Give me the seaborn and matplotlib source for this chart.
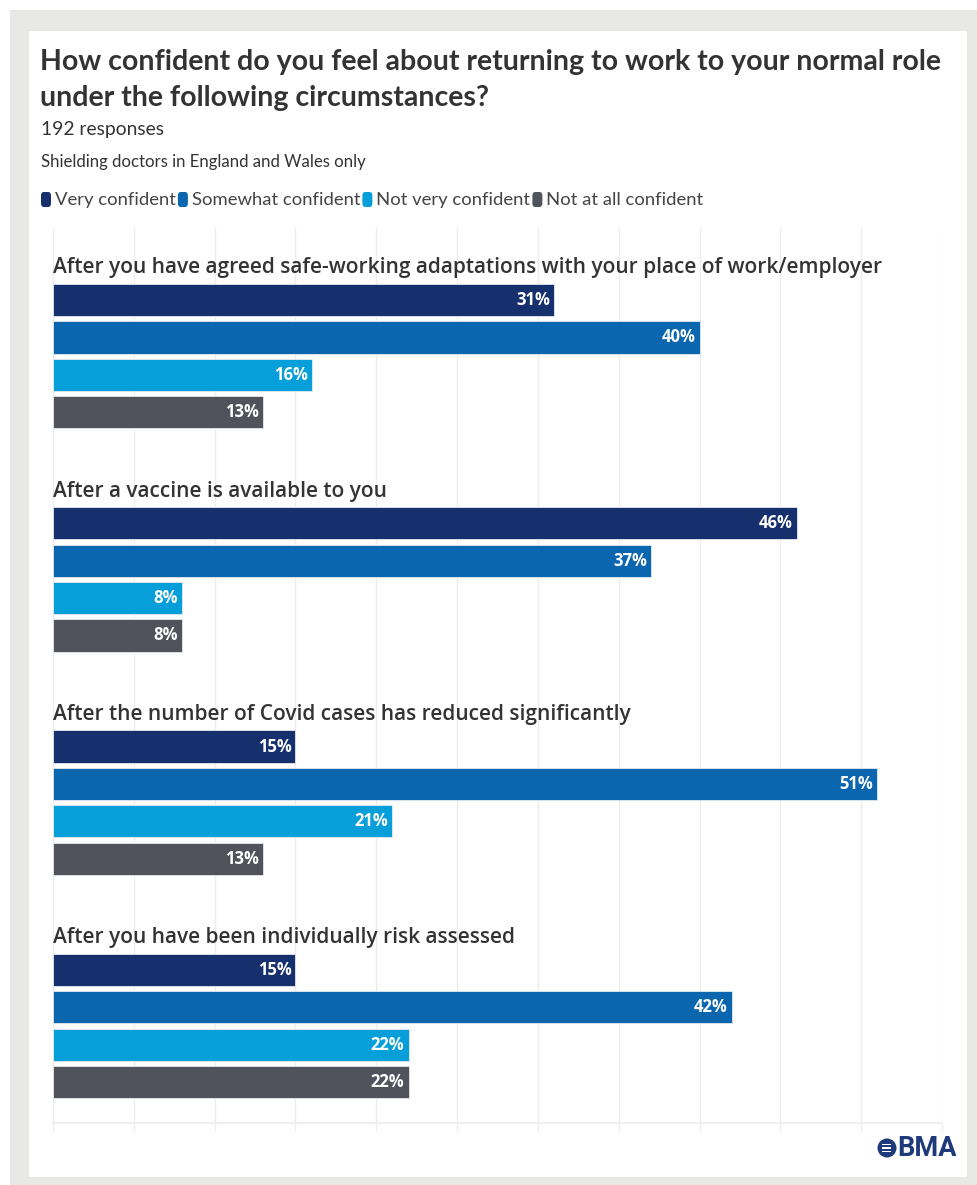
import matplotlib
matplotlib.use("Agg")
import matplotlib.pyplot as plt
from matplotlib.patches import Rectangle, FancyBboxPatch, Circle
import numpy as np
import pandas as pd
import seaborn as sns

# ---- data -------------------------------------------------------------
circumstances = [
    "After you have agreed safe-working adaptations with your place of work/employer",
    "After a vaccine is available to you",
    "After the number of Covid cases has reduced significantly",
    "After you have been individually risk assessed",
]
levels = ["Very confident", "Somewhat confident", "Not very confident", "Not at all confident"]
very_confident = [31, 46, 15, 15]
somewhat_confident = [40, 37, 51, 42]
not_very_confident = [16, 8, 21, 22]
not_at_all_confident = [13, 8, 13, 22]
colors = ["#16306e", "#0b66b0", "#069fd9", "#50535b"]

series = [very_confident, somewhat_confident, not_very_confident, not_at_all_confident]
rows = []
for lvl, vals in zip(levels, series):
    for c, v in zip(circumstances, vals):
        rows.append({"circumstance": c, "level": lvl, "pct": v})
df = pd.DataFrame(rows)

# ---- figure -----------------------------------------------------------
W, H = 977, 1185
sns.set_theme(style="white")
plt.rcParams["font.family"] = ["Open Sans", "DejaVu Sans"]
fig = plt.figure(figsize=(W / 100, H / 100), dpi=100)
fig.patch.set_facecolor("white")

def fx(px):
    return px / W

def fy(py):
    return 1 - py / H

# grey frame and white card
fig.add_artist(Rectangle((fx(10), fy(1185)), fx(977) - fx(10), fy(10) - fy(1185),
                         transform=fig.transFigure, facecolor="#e8e8e6", edgecolor="none", zorder=0))
fig.add_artist(Rectangle((fx(29), fy(1177)), fx(967) - fx(29), fy(31) - fy(1177),
                         transform=fig.transFigure, facecolor="white", edgecolor="none", zorder=0))

# ---- axes ---------------------------------------------------------------
ax_left, ax_right, ax_top, ax_bottom = 53, 942, 228, 1123
ax = fig.add_axes([fx(ax_left), fy(ax_bottom), fx(ax_right) - fx(ax_left), fy(ax_top) - fy(ax_bottom)])
ax.set_facecolor("none")

group_width = 0.67
sns.barplot(data=df, y="circumstance", x="pct", hue="level", hue_order=levels,
            order=circumstances, orient="h", palette=colors, saturation=1,
            width=group_width, gap=0.14, edgecolor="#e6e9ef", linewidth=0.6,
            legend=False, ax=ax, zorder=3)

ax.set_xlim(0, 55)
ax.set_ylim(3.435, -0.574)
ax.set_xticks(np.arange(0, 56, 5))
ax.set_xticklabels([])
ax.set_yticks([])
ax.set_xlabel("")
ax.set_ylabel("")
ax.grid(axis="x", color="#ececec", linewidth=1, zorder=0)
for s in ["top", "right", "left"]:
    ax.spines[s].set_visible(False)
ax.spines["bottom"].set_color("#ececec")
ax.tick_params(axis="x", length=6, color="#ececec", width=1, direction="out", bottom=True)

# value labels inside the bar ends
for container, vals in zip(ax.containers, series):
    for patch, v in zip(container.patches, vals):
        yc = patch.get_y() + patch.get_height() / 2
        ax.annotate(f"{v}%", xy=(v, yc), xytext=(-3, 0), textcoords="offset points",
                    ha="right", va="center", color="white", fontsize=12,
                    fontweight="bold", zorder=5)

# category headings above each group
for i, c in enumerate(circumstances):
    ax.text(0, i - group_width / 2 - 0.06, c, ha="left", va="center",
            fontsize=15.0, fontweight="semibold", color="#333333", clip_on=False)

# ---- titles -----------------------------------------------------------
title_font = ["Lato", "DejaVu Sans"]
fig.text(fx(40), fy(62), "How confident do you feel about returning to work to your normal role",
         ha="left", va="center", fontsize=20.5, fontweight="bold", color="#333333", family=title_font)
fig.text(fx(40), fy(98), "under the following circumstances?",
         ha="left", va="center", fontsize=20.5, fontweight="bold", color="#333333", family=title_font)
fig.text(fx(41), fy(130), "192 responses", ha="left", va="center",
         fontsize=13.9, color="#333333", family=title_font)
fig.text(fx(41), fy(162), "Shielding doctors in England and Wales only", ha="left", va="center",
         fontsize=12.1, color="#333333", family=title_font)

# ---- legend -------------------------------------------------------------
leg_y = 200
x = 41
renderer = fig.canvas.get_renderer()
for lvl, col in zip(levels, colors):
    fig.add_artist(FancyBboxPatch((fx(x), fy(leg_y + 7)), fx(10), fy(0) - fy(15),
                                  boxstyle="round,pad=0,rounding_size=0.003",
                                  transform=fig.transFigure, facecolor=col, edgecolor="none"))
    t = fig.text(fx(x + 14), fy(leg_y), lvl, ha="left", va="center", fontsize=13.3,
                 color="#444444", family=title_font)
    bb = t.get_window_extent(renderer=renderer)
    x = x + 14 + bb.width + 2

# ---- logo -------------------------------------------------------------
logo_col = "#1d3a7a"
fig.add_artist(Circle((8.87, (H - 1148) / 100), 0.095, transform=fig.dpi_scale_trans,
                      facecolor=logo_col, edgecolor="none"))
for dy in (-0.035, 0.0, 0.035):
    fig.add_artist(Rectangle((8.87 - 0.045, (H - 1148) / 100 + dy - 0.006), 0.09, 0.012,
                             transform=fig.dpi_scale_trans, facecolor="white", edgecolor="none"))
fig.text(fx(897), fy(1148), "BMA", ha="left", va="center", fontsize=19.5,
         fontweight="bold", color=logo_col, family=["Roboto", "DejaVu Sans"])

fig.savefig("out.png", dpi=100, facecolor=fig.get_facecolor())
